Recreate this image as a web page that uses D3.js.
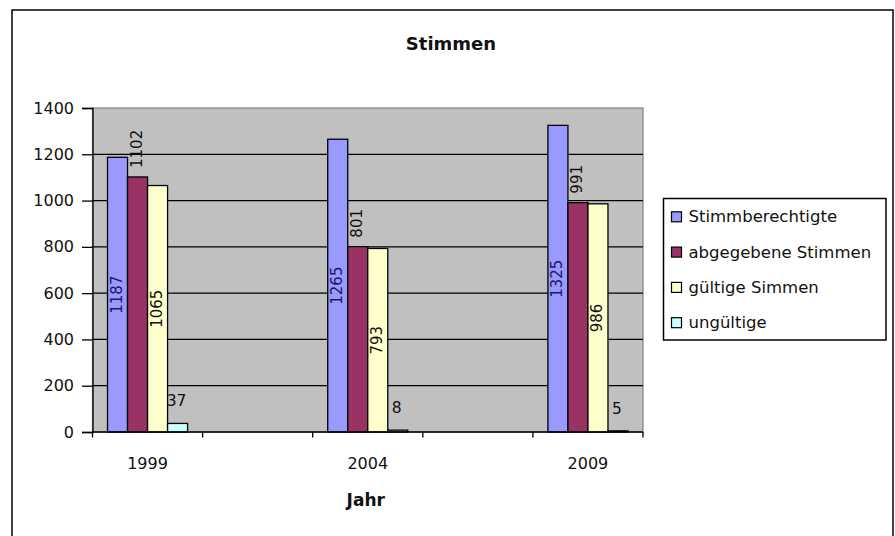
<!DOCTYPE html>
<html>
<head>
<meta charset="utf-8">
<script src="https://cdn.jsdelivr.net/npm/d3@7/dist/d3.min.js"></script>
<style>
  html, body { margin: 0; padding: 0; background: #fff; }
  svg { display: block; }
  text { font-family: "DejaVu Sans", sans-serif; fill: #111; }
</style>
</head>
<body>
<div id="chart"></div>
<script>
// Wahlbeteiligung je Wahljahr
const categories = ["1999", "", "2004", "", "2009"];
const seriesNames = ["Stimmberechtigte", "abgegebene Stimmen", "gültige Simmen", "ungültige"];
const stimmberechtigte = [1187, null, 1265, null, 1325];
const abgegebene = [1102, null, 801, null, 991];
const gueltige = [1065, null, 793, null, 986];
const ungueltige = [37, null, 8, null, 5];
const yTicks = [0, 200, 400, 600, 800, 1000, 1200, 1400];

const seriesValues = [stimmberechtigte, abgegebene, gueltige, ungueltige];
const colors = ["#9999ff", "#993366", "#ffffcc", "#ccffff"];

const W = 895, H = 536;
const plot = { left: 92.5, right: 643, top: 108, bottom: 432 };

const svg = d3.select("#chart").append("svg")
  .attr("width", W).attr("height", H);

// chart frame
svg.append("rect")
  .attr("x", 12).attr("y", 10)
  .attr("width", 881).attr("height", 540)
  .attr("fill", "#fff").attr("stroke", "#000").attr("stroke-width", 1.5);

svg.append("text")
  .attr("x", 451).attr("y", 50)
  .attr("text-anchor", "middle")
  .attr("font-size", 18).attr("font-weight", "bold")
  .text("Stimmen");

const x = d3.scaleBand()
  .domain(d3.range(categories.length))
  .range([plot.left, plot.right])
  .paddingInner(0).paddingOuter(0);

const x1 = d3.scaleBand()
  .domain(d3.range(seriesNames.length))
  .range([0, x.bandwidth()])
  .paddingInner(0).paddingOuter(0.75);

const y = d3.scaleLinear().domain([0, 1400]).range([plot.bottom, plot.top]);

// plot background
svg.append("rect")
  .attr("x", plot.left).attr("y", plot.top)
  .attr("width", plot.right - plot.left).attr("height", plot.bottom - plot.top)
  .attr("fill", "#c0c0c0").attr("stroke", "#808080").attr("stroke-width", 1.2);

// horizontal gridlines
svg.append("g").selectAll("line")
  .data(yTicks.filter(t => t > 0 && t < 1400))
  .join("line")
  .attr("x1", plot.left).attr("x2", plot.right)
  .attr("y1", d => y(d)).attr("y2", d => y(d))
  .attr("stroke", "#000").attr("stroke-width", 1.2);

// bars
const groups = svg.append("g").selectAll("g")
  .data(categories.map((c, i) => i))
  .join("g")
  .attr("transform", i => `translate(${x(i)},0)`);

groups.selectAll("rect")
  .data(i => seriesValues.map((vals, s) => ({ s, v: vals[i] })).filter(d => d.v != null))
  .join("rect")
  .attr("x", d => x1(d.s))
  .attr("y", d => y(d.v))
  .attr("width", x1.bandwidth())
  .attr("height", d => y(0) - y(d.v))
  .attr("fill", d => colors[d.s])
  .attr("stroke", "#000").attr("stroke-width", 1.3);

// data labels
groups.each(function (i) {
  const g = d3.select(this);
  seriesValues.forEach((vals, s) => {
    const v = vals[i];
    if (v == null) return;
    const cx = x1(s) + x1.bandwidth() / 2 - 1;
    if (s === 3) {
      g.append("text")
        .attr("x", cx).attr("y", y(v) - 17)
        .attr("text-anchor", "middle")
        .attr("font-size", 15.5)
        .text(v);
    } else if (s === 1) {
      g.append("text")
        .attr("transform", `translate(${cx},${y(v) - 9}) rotate(-90)`)
        .attr("text-anchor", "start")
        .attr("dominant-baseline", "central")
        .attr("font-size", 15)
        .text(v);
    } else {
      g.append("text")
        .attr("transform", `translate(${cx},${(y(v) + y(0)) / 2}) rotate(-90)`)
        .attr("text-anchor", "middle")
        .attr("dominant-baseline", "central")
        .attr("font-size", 15)
        .style("fill", s === 0 ? "#1a1a5c" : "#111")
        .text(v);
    }
  });
});

// y axis
const yAxis = svg.append("g")
  .attr("transform", `translate(${plot.left},0)`)
  .call(d3.axisLeft(y).tickValues(yTicks).tickSize(10.5).tickPadding(8).tickFormat(d3.format("d")));
yAxis.select(".domain").attr("stroke", "#000").attr("stroke-width", 1.3);
yAxis.selectAll(".tick line").attr("stroke", "#000").attr("stroke-width", 1.3);
yAxis.selectAll(".tick text")
  .attr("font-family", "DejaVu Sans").attr("font-size", 16)
  .attr("fill", "#111");

// x axis: ticks between categories, labels centred in each slot
const xAxisG = svg.append("g");
xAxisG.append("line")
  .attr("x1", plot.left).attr("x2", plot.right)
  .attr("y1", plot.bottom).attr("y2", plot.bottom)
  .attr("stroke", "#000").attr("stroke-width", 1.3);
xAxisG.selectAll("line.tk")
  .data(d3.range(categories.length + 1))
  .join("line").attr("class", "tk")
  .attr("x1", i => i < categories.length ? x(i) : plot.right)
  .attr("x2", i => i < categories.length ? x(i) : plot.right)
  .attr("y1", plot.bottom).attr("y2", plot.bottom + 5.5)
  .attr("stroke", "#000").attr("stroke-width", 1.3);
xAxisG.selectAll("text")
  .data(categories.map((c, i) => ({ c, i })).filter(d => d.c !== ""))
  .join("text")
  .attr("x", d => x(d.i) + x.bandwidth() / 2)
  .attr("y", 469)
  .attr("text-anchor", "middle")
  .attr("font-size", 16)
  .text(d => d.c);

svg.append("text")
  .attr("x", (plot.left + plot.right) / 2 - 2).attr("y", 506)
  .attr("text-anchor", "middle")
  .attr("font-size", 17).attr("font-weight", "bold")
  .text("Jahr");

// legend
const legend = svg.append("g");
legend.append("rect")
  .attr("x", 663.5).attr("y", 198.5)
  .attr("width", 222.5).attr("height", 141.5)
  .attr("fill", "#fff").attr("stroke", "#000").attr("stroke-width", 1.5);
const rowY = d3.scalePoint().domain(d3.range(seriesNames.length)).range([216.8, 322.7]);
seriesNames.forEach((name, s) => {
  legend.append("rect")
    .attr("x", 671.5).attr("y", rowY(s) - 5)
    .attr("width", 10).attr("height", 10)
    .attr("fill", colors[s]).attr("stroke", "#000").attr("stroke-width", 1.2);
  legend.append("text")
    .attr("x", 688.5).attr("y", rowY(s))
    .attr("dominant-baseline", "central")
    .attr("font-size", 16.5)
    .text(name);
});
</script>
</body>
</html>
